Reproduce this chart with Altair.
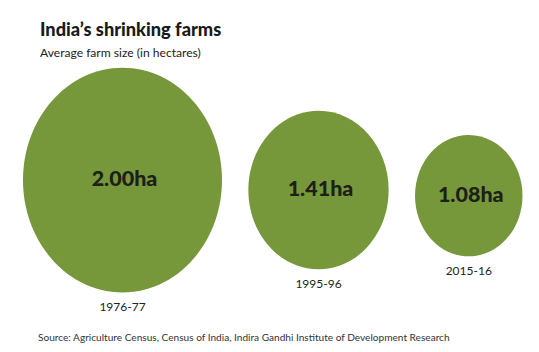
import altair as alt
import pandas as pd

# ---- data ----
periods = ["1976-77", "1995-96", "2015-16"]
farm_size = [2.00, 1.41, 1.08]
title_text = ["India\u2019s shrinking farms"]
subtitle_text = ["Average farm size (in hectares)"]
source_text = ["Source: Agriculture Census, Census of India,  Indira Gandhi Institute of Development Research"]

df = pd.DataFrame({"period": periods, "value": farm_size})

GREEN = "#76983b"
DARK = "#1d2018"
FONT = "Lato"

W, H = 539, 352
UNIT = 99.5  # pixels per hectare of diameter

# ellipse symbol slightly taller than wide (as in reference)
ELLIPSE = ("M0,-1.13 C0.552,-1.13 1,-0.624 1,0 C1,0.624 0.552,1.13 0,1.13 "
           "C-0.552,1.13 -1,0.624 -1,0 C-1,-0.624 -0.552,-1.13 0,-1.13 Z")

base = alt.Chart(df).transform_window(
    cum="sum(value)", idx="row_number()", sort=[alt.SortField("period")], frame=[None, 0]
).transform_calculate(
    cx="datum.cum - datum.value / 2 + (datum.idx - 1) * 0.265",
    cy="1.81 + (2 - datum.value) * 0.17",
    ly="1.81 + (2 - datum.value) * 0.17 + 0.565 * datum.value + 0.145",
    lab="format(datum.value, '.2f') + 'ha'",
)

xs = alt.Scale(domain=[-0.231, W / UNIT - 0.231], nice=False, zero=False)
ys = alt.Scale(domain=[0, H / UNIT], reverse=True, nice=False, zero=False)

circles = base.mark_point(filled=True, opacity=1, shape=ELLIPSE, color=GREEN).encode(
    x=alt.X("cx:Q", scale=xs, axis=None),
    y=alt.Y("cy:Q", scale=ys, axis=None),
    size=alt.Size("value:Q", scale=alt.Scale(type="pow", exponent=2, domain=[0, 2],
                                             range=[0, (2 * UNIT) ** 2]), legend=None),
)

values = base.mark_text(font=FONT, fontWeight=900, fontSize=21.5, color=DARK,
                        baseline="middle", dx=2).encode(
    x=alt.X("cx:Q", scale=xs, axis=None),
    y=alt.Y("cy:Q", scale=ys, axis=None),
    text="lab:N",
)

cats = base.mark_text(font=FONT, fontSize=12, color="#222222", baseline="middle").encode(
    x=alt.X("cx:Q", scale=xs, axis=None),
    y=alt.Y("ly:Q", scale=ys, axis=None),
    text="period:N",
)

title = alt.Chart(pd.DataFrame({"t": title_text})).mark_text(
    font=FONT, fontWeight=900, fontSize=18.2, color="#1a1a1a", align="left", baseline="alphabetic"
).encode(x=alt.value(40), y=alt.value(36), text="t:N")

subtitle = alt.Chart(pd.DataFrame({"t": subtitle_text})).mark_text(
    font=FONT, fontSize=12.1, color="#222222", align="left", baseline="alphabetic"
).encode(x=alt.value(40), y=alt.value(57), text="t:N")

source = alt.Chart(pd.DataFrame({"t": source_text})).mark_text(
    font=FONT, fontSize=10.1, color="#333333", align="left", baseline="alphabetic"
).encode(x=alt.value(38), y=alt.value(341), text="t:N")

chart = alt.layer(circles, values, cats, title, subtitle, source).properties(
    width=W, height=H, autosize=alt.AutoSizeParams(type="none"), padding=0, background="white"
).configure_view(stroke=None)

chart.save("out.html", embed_options={"renderer": "svg", "actions": False})
